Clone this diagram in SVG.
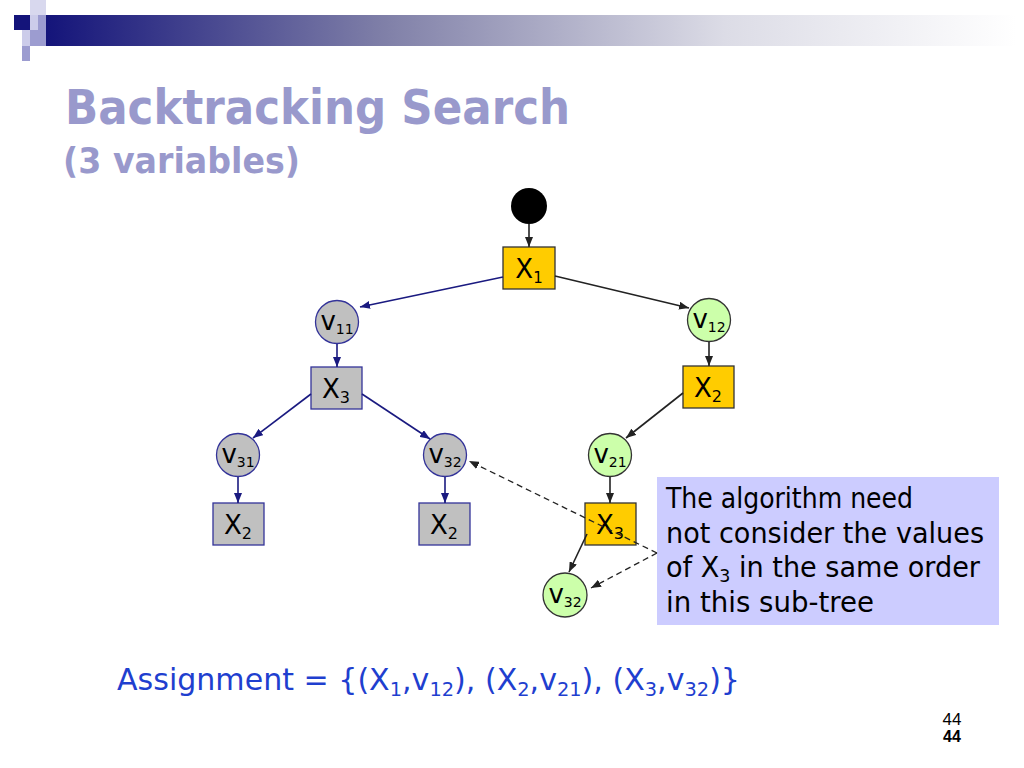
<svg xmlns="http://www.w3.org/2000/svg" width="1024" height="768" viewBox="0 0 1024 768">
<style>
.title{font-family:"DejaVu Sans","Liberation Sans",sans-serif;font-weight:bold;fill:#9999cc}
.lbl{font-family:"DejaVu Sans","Liberation Sans",sans-serif;fill:#000}
.gray{fill:#c0c0c0;stroke:#333399;stroke-width:1.3}
.orange{fill:#ffcc00;stroke:#333333;stroke-width:1.3}
.green{fill:#ccffaa;stroke:#333333;stroke-width:1.3}
.navy{stroke:#1a1a80;stroke-width:1.6;fill:none;marker-end:url(#ah-navy)}
.blk{stroke:#222;stroke-width:1.6;fill:none;marker-end:url(#ah-blk)}
.dash{stroke:#222;stroke-width:1.3;fill:none;stroke-dasharray:6,4;marker-end:url(#ah-blk)}
.call{font-family:"DejaVu Sans","Liberation Sans",sans-serif;font-size:28px;fill:#000}
.asg{font-family:"DejaVu Sans","Liberation Sans",sans-serif;font-size:31px;fill:#1f3fcf}
</style>
<defs>
<linearGradient id="bar" x1="0" y1="0" x2="1" y2="0">
<stop offset="0" stop-color="#14147a"/>
<stop offset="0.35" stop-color="#8080a8"/>
<stop offset="0.7" stop-color="#dcdce6"/>
<stop offset="1" stop-color="#ffffff"/>
</linearGradient>
<marker id="ah-navy" markerUnits="userSpaceOnUse" markerWidth="10" markerHeight="8" refX="10" refY="4" orient="auto"><path d="M0,0 L10,4 L0,8 z" fill="#1a1a80"/></marker>
<marker id="ah-blk" markerUnits="userSpaceOnUse" markerWidth="10" markerHeight="8" refX="10" refY="4" orient="auto"><path d="M0,0 L10,4 L0,8 z" fill="#222"/></marker>
</defs>
<rect width="1024" height="768" fill="#fff"/>
<g id="header">
<rect x="46" y="15" width="970" height="31" fill="url(#bar)"/>
<rect x="30" y="0" width="16" height="15" fill="#d8d8ee"/>
<rect x="14" y="15" width="16" height="15" fill="#14147a"/>
<rect x="30" y="15" width="8" height="15" fill="#ccccea"/>
<rect x="38" y="15" width="8" height="15" fill="#9c9cd0"/>
<rect x="22" y="30" width="8" height="16" fill="#ccccea"/>
<rect x="30" y="30" width="16" height="16" fill="#9c9cd0"/>
<rect x="22" y="46" width="8" height="15" fill="#9c9cd0"/>
</g>
<g id="title">
<text x="65" y="124" class="title" font-size="48" textLength="505" lengthAdjust="spacingAndGlyphs">Backtracking Search</text>
<text x="63" y="173" class="title" font-size="35" textLength="237" lengthAdjust="spacingAndGlyphs">(3 variables)</text>
</g>
<g id="root"><circle cx="529" cy="206" r="18" fill="#000"/></g>
<g id="X1"><rect x="503" y="247" width="52" height="42" class="orange"/><text x="529" y="278" class="lbl" font-size="26" text-anchor="middle">X<tspan font-size="15" dy="5">1</tspan></text></g>
<g id="v11"><circle cx="337" cy="322" r="21.5" class="gray"/><text x="337" y="330" class="lbl" font-size="26" text-anchor="middle">v<tspan font-size="14" dy="4">11</tspan></text></g>
<g id="v12"><circle cx="709" cy="320" r="21.5" class="green"/><text x="709" y="328" class="lbl" font-size="26" text-anchor="middle">v<tspan font-size="14" dy="4">12</tspan></text></g>
<g id="X3a"><rect x="311" y="367" width="51" height="42" class="gray"/><text x="336" y="398" class="lbl" font-size="26" text-anchor="middle">X<tspan font-size="16" dy="5">3</tspan></text></g>
<g id="X2a"><rect x="683" y="366" width="51" height="42" class="orange"/><text x="708" y="397" class="lbl" font-size="26" text-anchor="middle">X<tspan font-size="16" dy="5">2</tspan></text></g>
<g id="v31"><circle cx="238" cy="455" r="21.5" class="gray"/><text x="238" y="463" class="lbl" font-size="26" text-anchor="middle">v<tspan font-size="14" dy="4">31</tspan></text></g>
<g id="v32a"><circle cx="445" cy="455" r="21.5" class="gray"/><text x="445" y="463" class="lbl" font-size="26" text-anchor="middle">v<tspan font-size="14" dy="4">32</tspan></text></g>
<g id="v21"><circle cx="610" cy="455" r="21.5" class="green"/><text x="610" y="463" class="lbl" font-size="26" text-anchor="middle">v<tspan font-size="14" dy="4">21</tspan></text></g>
<g id="X2b"><rect x="213" y="503" width="51" height="42" class="gray"/><text x="238" y="534" class="lbl" font-size="26" text-anchor="middle">X<tspan font-size="16" dy="5">2</tspan></text></g>
<g id="X2c"><rect x="419" y="503" width="51" height="42" class="gray"/><text x="444" y="534" class="lbl" font-size="26" text-anchor="middle">X<tspan font-size="16" dy="5">2</tspan></text></g>
<g id="X3b"><rect x="585" y="503" width="51" height="42" class="orange"/><text x="610" y="534" class="lbl" font-size="26" text-anchor="middle">X<tspan font-size="16" dy="5">3</tspan></text></g>
<g id="v32b"><circle cx="565" cy="595" r="22" class="green"/><text x="565" y="603" class="lbl" font-size="26" text-anchor="middle">v<tspan font-size="14" dy="4">32</tspan></text></g>
<g id="note">
<rect x="657" y="477" width="342" height="148" fill="#ccccff"/>
<text x="666" y="508" class="call" textLength="247" lengthAdjust="spacingAndGlyphs">The algorithm need</text>
<text x="666" y="543" class="call" textLength="318" lengthAdjust="spacingAndGlyphs">not consider the values</text>
<text x="666" y="577" class="call" textLength="314" lengthAdjust="spacingAndGlyphs">of X<tspan font-size="18" dy="5">3</tspan><tspan dy="-5"> in the same order</tspan></text>
<text x="666" y="612" class="call" textLength="208" lengthAdjust="spacingAndGlyphs">in this sub-tree</text>
</g>
<g id="connectors">
<line x1="529" y1="224" x2="529" y2="247" class="blk"/>
<line x1="503" y1="277" x2="360" y2="307" class="navy"/>
<line x1="555" y1="276" x2="689" y2="308" class="blk"/>
<line x1="337" y1="344" x2="337" y2="367" class="navy"/>
<line x1="709" y1="342" x2="709" y2="366" class="blk"/>
<line x1="311" y1="394" x2="253" y2="438" class="navy"/>
<line x1="362" y1="394" x2="430" y2="439" class="navy"/>
<line x1="683" y1="393" x2="626" y2="438" class="blk"/>
<line x1="238" y1="477" x2="238" y2="503" class="navy"/>
<line x1="445" y1="477" x2="445" y2="503" class="navy"/>
<line x1="610" y1="477" x2="610" y2="503" class="blk"/>
<line x1="587" y1="534" x2="569" y2="572" class="blk"/>
<line x1="657" y1="553" x2="469" y2="461" class="dash"/>
<line x1="657" y1="553" x2="591" y2="588" class="dash"/>
</g>
<g id="assignment">
<text x="117" y="690" class="asg" textLength="623" lengthAdjust="spacingAndGlyphs">Assignment = {(X<tspan font-size="20" dy="6">1</tspan><tspan dy="-6">,v</tspan><tspan font-size="20" dy="6">12</tspan><tspan dy="-6">), (X</tspan><tspan font-size="20" dy="6">2</tspan><tspan dy="-6">,v</tspan><tspan font-size="20" dy="6">21</tspan><tspan dy="-6">), (X</tspan><tspan font-size="20" dy="6">3</tspan><tspan dy="-6">,v</tspan><tspan font-size="20" dy="6">32</tspan><tspan dy="-6">)}</tspan></text>
</g>
<g id="pagenum">
<text x="952" y="725" font-family="Liberation Sans, sans-serif" font-size="17" text-anchor="middle" fill="#000">44</text>
<text x="952" y="742" font-family="Liberation Sans, sans-serif" font-size="16" font-weight="bold" text-anchor="middle" fill="#000">44</text>
</g>
</svg>
